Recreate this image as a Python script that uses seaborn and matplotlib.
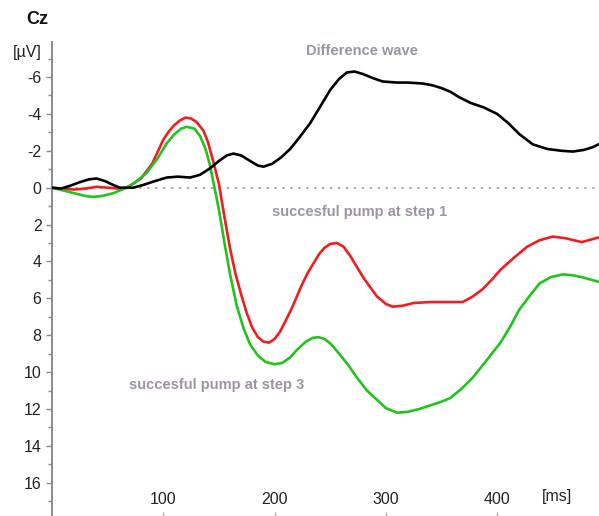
import numpy as np
import pandas as pd
import matplotlib
matplotlib.use("Agg")
import matplotlib.pyplot as plt
import seaborn as sns

# ---- data (time in ms, amplitude in µV) ----
t_step1 = [0, 10, 20, 30, 40, 50, 60, 67, 70, 80, 90, 100, 105, 110, 115, 120, 125, 130, 136, 140, 145, 150,
           155, 160, 165, 170, 175, 180, 185, 190, 195, 200, 205, 210, 215, 220, 225, 230, 235, 240,
           245, 250, 256, 262, 268, 274, 280, 286, 292, 300, 306, 315, 325, 340, 355, 369, 378, 387,
           395, 403, 415, 427, 438, 450, 462, 476, 485, 491]
v_step1 = [0.0, 0.05, 0.1, 0.05, -0.05, 0.0, 0.05, 0.0, -0.1, -0.5, -1.3, -2.6, -3.05, -3.4, -3.65, -3.8, -3.75,
           -3.55, -3.1, -2.5, -1.4, -0.2, 1.6, 3.3, 4.7, 5.8, 6.8, 7.6, 8.1, 8.35, 8.4, 8.2, 7.8, 7.2,
           6.6, 5.9, 5.2, 4.6, 4.1, 3.6, 3.25, 3.05, 3.0, 3.2, 3.7, 4.3, 4.9, 5.4, 5.9, 6.3, 6.45, 6.4,
           6.25, 6.2, 6.2, 6.2, 5.9, 5.5, 5.0, 4.45, 3.8, 3.2, 2.85, 2.65, 2.75, 2.95, 2.8, 2.7]

t_step3 = [0, 10, 20, 30, 37, 45, 55, 67, 75, 85, 95, 103, 110, 116, 121, 128, 133, 138, 142, 146, 150,
           155, 160, 166, 172, 178, 185, 192, 200, 207, 214, 220, 228, 234, 239, 245, 251, 258, 266,
           274, 283, 292, 300, 310, 320, 330, 340, 350, 358, 368, 378, 390, 403, 412, 420, 430, 438,
           448, 459, 468, 476, 485, 491]
v_step3 = [0.0, 0.15, 0.3, 0.45, 0.5, 0.45, 0.3, 0.0, -0.3, -0.8, -1.6, -2.4, -2.9, -3.2, -3.3, -3.2, -2.8,
           -2.1, -1.2, 0.0, 1.2, 3.0, 4.7, 6.4, 7.6, 8.5, 9.1, 9.45, 9.57, 9.5, 9.2, 8.8, 8.35, 8.15,
           8.1, 8.2, 8.5, 9.0, 9.6, 10.3, 11.0, 11.5, 11.95, 12.2, 12.15, 12.0, 11.8, 11.6, 11.4, 10.9,
           10.3, 9.4, 8.4, 7.5, 6.6, 5.8, 5.2, 4.85, 4.7, 4.75, 4.85, 5.0, 5.1]

t_diff = [0, 8, 16, 25, 33, 40, 48, 55, 61, 73, 82, 92, 103, 113, 124, 133, 142, 150, 157, 163, 170,
          178, 185, 190, 198, 206, 214, 222, 232, 240, 250, 258, 265, 272, 280, 288, 297, 310, 320,
          333, 342, 350, 358, 366, 376, 388, 400, 410, 420, 432, 445, 458, 468, 478, 486, 491]
v_diff = [0.0, 0.05, -0.1, -0.3, -0.45, -0.5, -0.35, -0.15, 0.0, 0.0, -0.15, -0.35, -0.55, -0.6, -0.55,
          -0.7, -1.05, -1.45, -1.75, -1.85, -1.75, -1.45, -1.2, -1.14, -1.3, -1.65, -2.1, -2.7, -3.5,
          -4.3, -5.3, -5.9, -6.25, -6.3, -6.15, -5.95, -5.76, -5.7, -5.7, -5.65, -5.55, -5.4, -5.2,
          -4.9, -4.6, -4.35, -4.0, -3.5, -2.9, -2.35, -2.1, -2.0, -1.96, -2.05, -2.2, -2.35]

series_names = ["step1", "step3", "diff"]
series_colors = ["#f01e23", "#22c31e", "#000000"]

y_major = [-6, -4, -2, 0, 2, 4, 6, 8, 10, 12, 14, 16]
y_minor = list(range(-7, 18))
x_ticks = [100, 200, 300, 400]

# ---- build long table ----
df = pd.concat([
    pd.DataFrame({"t": t_step1, "v": v_step1, "cond": "step1"}),
    pd.DataFrame({"t": t_step3, "v": v_step3, "cond": "step3"}),
    pd.DataFrame({"t": t_diff, "v": v_diff, "cond": "diff"}),
], ignore_index=True)

sns.set_style("white")
plt.rcParams["font.family"] = ["Liberation Sans", "DejaVu Sans"]

fig = plt.figure(figsize=(5.99, 5.16), dpi=100)
ax = fig.add_axes([52 / 599, 0.0, 1 - 52 / 599, 1 - 42 / 516])

ax.axhline(0, color="#a0a0a0", lw=1.3, ls=(0, (1.2, 3.2)), zorder=1)

sns.lineplot(data=df, x="t", y="v", hue="cond", hue_order=series_names,
             palette=dict(zip(series_names, series_colors)), sort=False,
             estimator=None, lw=1.9, legend=False, ax=ax, zorder=3)

ax.set_xlim(0, 491.5)
ax.set_ylim(17.8, -7.9)

for s in ["top", "right", "bottom"]:
    ax.spines[s].set_visible(False)
ax.spines["left"].set_color("#8a8a8a")
ax.spines["left"].set_linewidth(1.4)

ax.set_yticks(y_major)
ax.set_yticks(y_minor, minor=True)
ax.set_yticklabels([str(v) for v in y_major])
ax.tick_params(axis="y", which="both", left=True, right=False)
ax.tick_params(axis="y", which="major", length=4, width=1, color="#8a8a8a",
               labelsize=11.5, labelcolor="#222222", pad=3.5, direction="out")
ax.tick_params(axis="y", which="minor", length=3, width=1, color="#8a8a8a", direction="out")

ax.set_xticks(x_ticks)
ax.set_xticklabels([str(v) for v in x_ticks])
ax.tick_params(axis="x", which="major", bottom=True, top=False, length=3, width=1, color="#b0b0b0",
               labelsize=11.5, labelcolor="#222222", direction="in", pad=-17)
ax.set_xlabel("")
ax.set_ylabel("")

fig.text(26 / 599, 1 - 19 / 516, "Cz", fontsize=13, fontweight="bold", va="center", ha="left",
         color="#111111")
fig.text(27 / 599, 1 - 52 / 516, "[µV]", fontsize=11.5, va="center", ha="center", color="#222222")
fig.text(557 / 599, 1 - 497 / 516, "[ms]", fontsize=11.5, va="center", ha="center", color="#222222")

ann_color = "#9d93a5"
fig.text(306 / 599, 1 - 51 / 516, "Difference wave", fontsize=10.5, fontweight="bold",
         color=ann_color, va="center", ha="left")
fig.text(272 / 599, 1 - 212 / 516, "succesful pump at step 1", fontsize=10.5, fontweight="bold",
         color=ann_color, va="center", ha="left")
fig.text(129 / 599, 1 - 385 / 516, "succesful pump at step 3", fontsize=10.5, fontweight="bold",
         color=ann_color, va="center", ha="left")

fig.savefig("out.png", dpi=100)
